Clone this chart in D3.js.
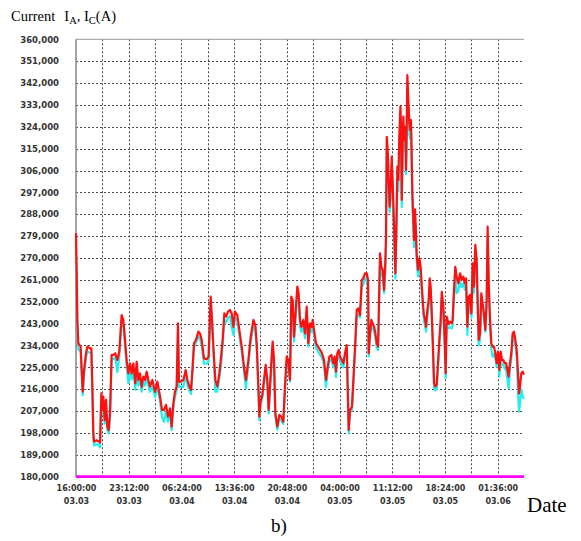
<!DOCTYPE html>
<html>
<head>
<meta charset="utf-8">
<script src="https://cdn.jsdelivr.net/npm/d3@7"></script>
<style>
  html, body { margin: 0; padding: 0; background: #ffffff; }
  svg { display: block; }
</style>
</head>
<body>
<svg id="chart" width="581" height="541"></svg>
<script>
// Minutes elapsed since the start of the log (03.03 16:00:00)
const sampleMinutes = [
  0, 5, 11, 19, 38, 55, 66, 82, 93, 115, 126, 134, 142, 148, 169, 186, 197, 208, 216, 224,
  235, 246, 257, 268, 279, 292, 306, 322, 339, 355, 374, 388, 402, 415, 429, 443, 456, 470, 486, 497,
  511, 525, 538, 552, 566, 579, 593, 606, 626, 648, 667, 689, 705, 721, 738, 754, 771, 784, 798, 811,
  825, 836, 844, 861, 880, 899, 913, 929, 943, 956, 967, 984, 1003, 1016, 1030, 1049, 1071, 1087, 1104, 1115,
  1126, 1142, 1158, 1175, 1189, 1202, 1216, 1230, 1246, 1262, 1276, 1290, 1303, 1322, 1339, 1358, 1377, 1393, 1413, 1432,
  1454, 1470, 1481, 1495, 1503, 1514, 1525, 1541, 1555, 1568, 1579, 1590, 1604, 1612, 1623, 1634, 1650, 1667, 1683, 1699,
  1713, 1727, 1740, 1754, 1765, 1776, 1787, 1801, 1814, 1825, 1836, 1847, 1863, 1877, 1891, 1904, 1918, 1932, 1940, 1951,
  1967, 1984, 2000, 2016, 2033, 2049, 2063, 2077, 2093, 2109, 2120, 2131, 2142, 2153, 2164, 2178, 2191, 2205, 2219, 2227,
  2235, 2246, 2262, 2279, 2290, 2301, 2314, 2328, 2342, 2355, 2369, 2383, 2394, 2399, 2410, 2421, 2432, 2443, 2454, 2465,
  2476, 2484, 2492, 2503, 2514, 2525, 2536, 2541, 2547, 2555, 2563, 2571, 2579, 2588, 2596, 2607, 2618, 2626, 2634, 2642,
  2650, 2659, 2664, 2670, 2678, 2683, 2691, 2700, 2705, 2711, 2716, 2724, 2732, 2738, 2746, 2757, 2765, 2771, 2779, 2787,
  2792, 2803, 2814, 2825, 2833, 2842, 2850, 2861, 2869, 2880, 2891, 2899, 2907, 2915, 2924, 2935, 2945, 2956, 2967, 2978,
  2989, 2998, 3011, 3022, 3030, 3038, 3052, 3066, 3079, 3087, 3098, 3109, 3120, 3134, 3148, 3161, 3175, 3186, 3197, 3208,
  3219, 3230, 3241, 3251, 3262, 3273, 3284, 3292, 3301, 3312, 3322, 3333, 3344, 3355, 3366, 3374, 3383, 3394, 3404, 3415,
  3426, 3437, 3448, 3459, 3470, 3481, 3492, 3503, 3514, 3525, 3536, 3546, 3557, 3568, 3579, 3590, 3601, 3612, 3623, 3631,
  3639, 3650, 3661, 3672
];

// Phase A current, A (red trace)
const currentA = [
  280200, 266400, 244500, 234900, 233500, 215000, 224000, 230800, 233500, 232800, 232800, 217000, 197800, 194400, 195000, 194400, 194000, 214300, 207400, 213000,
  203300, 211600, 200600, 199200, 206100, 230100, 230100, 230800, 228000, 231500, 246500, 244500, 236200, 228000, 222500, 226600, 222500, 226600, 218400, 227300,
  219800, 222500, 217000, 221200, 219800, 223200, 219800, 217100, 219800, 215000, 219100, 213000, 207500, 207500, 209500, 204700, 208100, 200600, 210200, 215000,
  217100, 243100, 219100, 219100, 219800, 223900, 219800, 217100, 215700, 225300, 234900, 236300, 239700, 239000, 236300, 228700, 228300, 229400, 254100, 244500,
  233500, 219800, 217100, 222500, 229400, 236300, 247200, 245900, 247900, 248600, 247200, 241700, 247900, 246500, 240400, 233500, 225300, 219800, 228000, 237600,
  244500, 242400, 234900, 217100, 204700, 211600, 213000, 219800, 226000, 219800, 207500, 217100, 229400, 235600, 228000, 206100, 200600, 205400, 204700, 202600,
  217100, 229400, 228000, 219800, 254100, 252700, 237600, 248600, 258200, 255500, 244500, 241700, 244500, 239000, 250000, 234900, 243100, 241700, 244500, 240400,
  234900, 233500, 232200, 230800, 228000, 219800, 225300, 229400, 230100, 226700, 229400, 223200, 230800, 232200, 229400, 228000, 226700, 230800, 234200, 217100,
  199200, 207500, 208800, 225300, 236300, 248600, 249300, 246500, 260900, 261600, 263700, 263700, 260900, 230800, 239000, 244500, 243100, 241700, 239000, 234900,
  233500, 252700, 271900, 266400, 265100, 256800, 269200, 278800, 319900, 314400, 302100, 291100, 299400, 311700, 300700, 282900, 263700, 282900, 307600, 302100,
  319900, 332300, 324000, 293900, 318600, 328200, 318600, 324000, 306200, 325400, 345300, 335000, 325400, 322700, 326800, 296600, 285600, 277400, 290000, 280000,
  271900, 265100, 269900, 266400, 259600, 252700, 247200, 244500, 241700, 248600, 252700, 261600, 258200, 248600, 236300, 218400, 217100, 217800, 226700, 236300,
  244500, 256100, 250000, 236300, 222500, 245900, 243100, 243800, 243100, 244500, 256800, 266400, 262300, 259600, 263700, 261000, 262300, 259600, 261600, 241700,
  254100, 254800, 247200, 267800, 258200, 275400, 269200, 252700, 236300, 239000, 255500, 251300, 247200, 240400, 252700, 282900, 259600, 244500, 234900, 233500,
  233500, 230800, 226700, 231500, 223900, 231500, 228000, 228000, 226700, 226700, 223900, 221200, 226700, 230800, 239000, 239700, 236300, 232200, 222500, 214300,
  217100, 222500, 223200, 222000
];

// Phase C current, A (cyan trace)
const currentC = [
  268000, 262000, 242000, 232500, 231500, 213500, 222000, 229000, 231500, 231000, 231000, 215500, 196000, 192800, 193500, 193000, 192000, 212500, 205800, 211500,
  201800, 210000, 199000, 197800, 204600, 228500, 228500, 229000, 223000, 229500, 244000, 242500, 234000, 225500, 218500, 224500, 220000, 224500, 215700, 225000,
  217500, 220500, 215000, 219000, 217500, 221000, 217500, 215000, 217500, 212800, 217000, 211000, 204700, 202600, 207000, 202600, 206000, 199200, 208500, 213000,
  215500, 240000, 217000, 217000, 217000, 222000, 217800, 215500, 214000, 223500, 233000, 235500, 237500, 237000, 234000, 226500, 226500, 227500, 251000, 242000,
  231500, 215000, 215000, 220500, 225300, 234000, 244500, 243500, 245500, 246000, 241700, 238300, 245500, 244000, 238000, 231500, 223000, 216400, 226000, 235500,
  242000, 240000, 232800, 215500, 203300, 210000, 211500, 218000, 224000, 218000, 206000, 215500, 227500, 233500, 226000, 204600, 199400, 204000, 203000, 201800,
  215500, 227500, 226000, 219100, 251500, 250000, 235600, 246000, 255500, 253000, 242000, 239500, 242000, 237000, 247500, 233500, 241000, 239500, 242000, 238300,
  233000, 231500, 230200, 229000, 226000, 217000, 223500, 227500, 228300, 225000, 227500, 221000, 229000, 230300, 227500, 226000, 225000, 229000, 232200, 215500,
  197800, 206000, 207300, 223500, 234300, 246000, 246800, 245500, 258000, 259000, 261600, 261000, 258000, 229500, 237000, 242000, 241000, 239500, 237000, 233000,
  232100, 250000, 268500, 263000, 262000, 255500, 266000, 275500, 315000, 309500, 297500, 289000, 295000, 308000, 296500, 279000, 261500, 279500, 303000, 297500,
  315000, 327500, 319500, 291000, 314000, 323500, 314000, 319500, 304500, 320500, 340000, 330500, 321000, 319000, 322000, 293000, 282000, 274500, 286000, 276500,
  269000, 262500, 266500, 263500, 257000, 250000, 245000, 242000, 239700, 246000, 250000, 258500, 255500, 246000, 234000, 216500, 215500, 216000, 224500, 234000,
  242000, 253500, 247500, 234000, 220500, 243500, 241000, 241500, 241000, 242000, 254000, 262500, 255500, 256500, 260500, 258000, 259500, 257000, 258500, 238300,
  251500, 252000, 245500, 264500, 255500, 272000, 266000, 250000, 234000, 236500, 253000, 248500, 245000, 239700, 250000, 279000, 256500, 242000, 232500, 229400,
  230500, 228500, 225300, 229000, 221200, 229000, 226000, 226000, 224500, 224000, 220000, 216400, 224000, 228500, 236500, 237500, 234000, 229500, 215000, 206800,
  210000, 216000, 213000, 212000
];

// Baseline trace lying on the floor of the scale
const baselineMinutes = [0, 3672];
const baselineValues = [180000, 180000];

// Axis settings
const yMin = 180000, yMax = 360000, yStep = 9000;
const tickTimeLabels = ["16:00:00", "23:12:00", "06:24:00", "13:36:00", "20:48:00", "04:00:00", "11:12:00", "18:24:00", "01:36:00"];
const tickDateLabels = ["03.03", "03.03", "03.04", "03.04", "03.04", "03.05", "03.05", "03.05", "03.06"];
const labelStepMinutes = 432;   // 7h12m between labelled ticks
const gridStepMinutes = 216;    // 3h36m between vertical grid lines
const spanMinutes = 3672;

const startTime = new Date(2000, 2, 3, 16, 0, 0);
const toTime = m => new Date(startTime.getTime() + m * 60000);

const svg = d3.select("#chart");
const plot = { left: 76, right: 524, top: 39.3, bottom: 476.7 };

const x = d3.scaleTime()
  .domain([startTime, toTime(spanMinutes)])
  .range([plot.left, plot.right]);
const y = d3.scaleLinear()
  .domain([yMin, yMax])
  .range([plot.bottom, plot.top]);

// snap a coordinate to the pixel centre so 1px dotted lines stay crisp
const snap = v => Math.round(v) + 0.5;

// Horizontal dotted grid
const yGridValues = d3.range(yMin + yStep, yMax, yStep);
svg.append("g")
  .selectAll("line")
  .data(yGridValues)
  .join("line")
  .attr("x1", plot.left).attr("x2", plot.right)
  .attr("y1", d => snap(y(d))).attr("y2", d => snap(y(d)))
  .attr("stroke", "#4a4a4a")
  .attr("stroke-width", 1)
  .attr("stroke-dasharray", "2,2");

// Vertical dotted grid
const xGridValues = d3.range(gridStepMinutes, spanMinutes, gridStepMinutes).map(toTime);
svg.append("g")
  .selectAll("line")
  .data(xGridValues)
  .join("line")
  .attr("x1", d => snap(x(d))).attr("x2", d => snap(x(d)))
  .attr("y1", plot.top).attr("y2", plot.bottom)
  .attr("stroke", "#4a4a4a")
  .attr("stroke-width", 1)
  .attr("stroke-dasharray", "2,2");

// Frame: left axis and top edge
svg.append("line")
  .attr("x1", plot.left).attr("x2", plot.left)
  .attr("y1", plot.top).attr("y2", plot.bottom)
  .attr("stroke", "#8c8c8c").attr("stroke-width", 1.6);
svg.append("line")
  .attr("x1", plot.left).attr("x2", plot.right)
  .attr("y1", plot.top).attr("y2", plot.top)
  .attr("stroke", "#9a9a9a").attr("stroke-width", 1);

// Y axis labels
const yAxis = d3.axisLeft(y)
  .tickValues(d3.range(yMin, yMax + 1, yStep))
  .tickFormat(d3.format(","))
  .tickSize(0)
  .tickPadding(17);
const gy = svg.append("g")
  .attr("transform", `translate(${plot.left},0)`)
  .call(yAxis);
gy.select(".domain").remove();
gy.selectAll("text")
  .attr("font-family", "'DejaVu Sans', Verdana, sans-serif")
  .attr("font-weight", "bold")
  .attr("font-size", "8.5px")
  .attr("fill", "#333");

// X axis labels (time over date)
const xTickValues = tickTimeLabels.map((_, i) => toTime(i * labelStepMinutes));
const xAxis = d3.axisBottom(x)
  .tickValues(xTickValues)
  .tickSize(0)
  .tickPadding(0)
  .tickFormat("");
const gx = svg.append("g")
  .attr("transform", `translate(0,${plot.bottom})`)
  .call(xAxis);
gx.select(".domain").remove();
gx.selectAll(".tick").each(function (d, i) {
  const t = d3.select(this);
  t.select("text").remove();
  const label = t.append("text")
    .attr("text-anchor", "middle")
    .attr("font-family", "'DejaVu Sans', Verdana, sans-serif")
    .attr("font-weight", "bold")
    .attr("font-size", "8px")
    .attr("fill", "#333");
  label.append("tspan").attr("x", 0).attr("y", 14.5).text(tickTimeLabels[i]);
  label.append("tspan").attr("x", 0).attr("y", 27.5).text(tickDateLabels[i]);
});

// Series
const line = d3.line()
  .x(d => x(toTime(d[0])))
  .y(d => y(d[1]));

svg.append("path")
  .datum(d3.zip(baselineMinutes, baselineValues))
  .attr("fill", "none")
  .attr("stroke", "#ff00ff")
  .attr("stroke-width", 2.8)
  .attr("d", line);

svg.append("path")
  .datum(d3.zip(sampleMinutes, currentC))
  .attr("fill", "none")
  .attr("stroke", "#22eeee")
  .attr("stroke-width", 2.2)
  .attr("stroke-linejoin", "round")
  .attr("d", line);

svg.append("path")
  .datum(d3.zip(sampleMinutes, currentA))
  .attr("fill", "none")
  .attr("stroke", "#ff1010")
  .attr("stroke-width", 2.2)
  .attr("stroke-linejoin", "round")
  .attr("d", line);

// Titles
const serif = "'Liberation Serif', 'Times New Roman', Times, serif";
const title = svg.append("text")
  .attr("x", 11)
  .attr("y", 21)
  .attr("font-family", serif)
  .attr("font-size", "14.5px")
  .attr("fill", "#000");
title.append("tspan").text("Current");
title.append("tspan").attr("dx", 9).text("I");
title.append("tspan").attr("font-size", "10.5px").attr("dy", 3).text("A");
title.append("tspan").attr("dy", -3).text(", I");
title.append("tspan").attr("font-size", "10.5px").attr("dy", 3).text("C");
title.append("tspan").attr("dy", -3).text("(A)");

svg.append("text")
  .attr("x", 527)
  .attr("y", 512)
  .attr("font-family", serif)
  .attr("font-size", "21px")
  .attr("fill", "#000")
  .text("Date");

svg.append("text")
  .attr("x", 271)
  .attr("y", 532)
  .attr("font-family", serif)
  .attr("font-size", "19px")
  .attr("fill", "#000")
  .text("b)");
</script>
</body>
</html>
